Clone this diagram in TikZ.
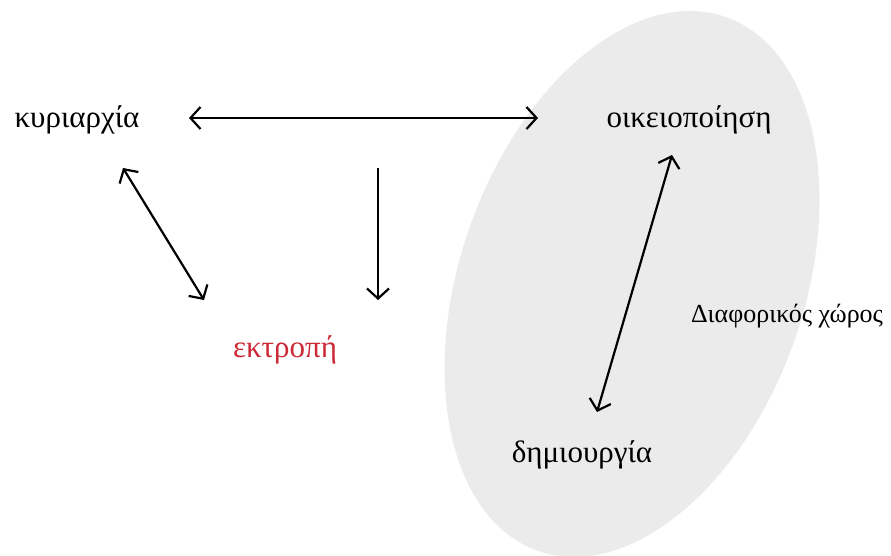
\documentclass[tikz,border=0pt]{standalone}
\usepackage{fontspec}
\setmainfont{Liberation Serif}
\usetikzlibrary{arrows.meta}
\definecolor{ellfill}{HTML}{EBEBEB}
\definecolor{redtxt}{HTML}{CC2936}
\begin{document}
\begin{tikzpicture}[x=1pt,y=-1pt,
  tip/.tip={Straight Barb[length=10pt,width=22pt,line width=2.2pt]},
  arr/.style={line width=2.2pt,-tip},
  darr/.style={line width=2.2pt,tip-tip},
  lbl/.style={font=\fontsize{31}{36}\selectfont,anchor=base,inner sep=0pt},
  small/.style={font=\fontsize{26}{30}\selectfont,anchor=base,inner sep=0pt}]
\useasboundingbox (0,0) rectangle (891,556);
\clip (0,0) rectangle (891,556);
\fill[ellfill,rotate around={-19.4:(632,284)}] (632,284) ellipse [x radius=172pt, y radius=283pt];
\node[lbl] (kyr) at (77,128) {κυριαρχία};
\node[lbl] (oik) at (689,128) {οικειοποίηση};
\node[lbl,text=redtxt] (ekt) at (285,357) {εκτροπή};
\node[lbl] (dim) at (582,462) {δημιουργία};
\node[small] (dia) at (787,322) {Διαφορικός χώρος};
\coordinate (h1) at (189,118);
\coordinate (h2) at (538,118);
\coordinate (d1) at (123,168);
\coordinate (d2) at (204,300);
\coordinate (v1) at (378,168);
\coordinate (v2) at (378,300);
\coordinate (r1) at (672,155);
\coordinate (r2) at (597,412);
\draw[darr] (h1) -- (h2);
\draw[darr] (d1) -- (d2);
\draw[arr] (v1) -- (v2);
\draw[darr] (r1) -- (r2);
\end{tikzpicture}
\end{document}
